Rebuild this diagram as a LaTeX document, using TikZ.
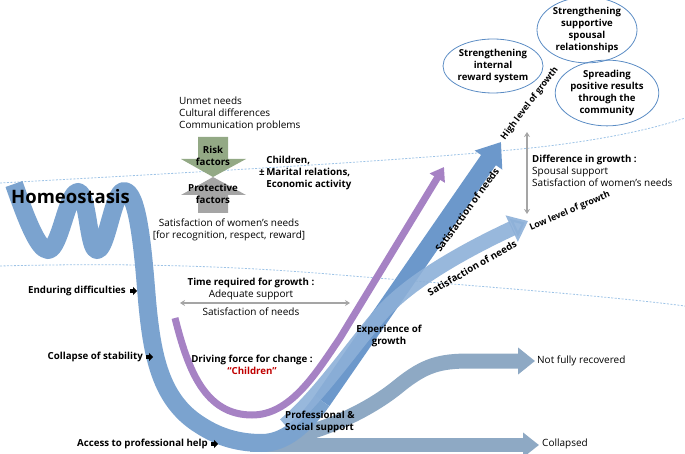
\documentclass[tikz,border=0pt]{standalone}
\usepackage{fontspec}
\setmainfont{Open Sans}
\usetikzlibrary{arrows.meta,shapes.geometric}
\definecolor{mainblue}{HTML}{7BA3CF}
\definecolor{riseblue}{HTML}{6C98CB}
\definecolor{lowblue}{HTML}{8DB0D8}
\definecolor{grayblue}{HTML}{8EA9C4}
\definecolor{purp}{HTML}{A682C4}
\definecolor{sage}{HTML}{93A985}
\definecolor{protgray}{HTML}{A5A5A5}
\definecolor{dashblue}{HTML}{9DC3E6}
\definecolor{ellblue}{HTML}{5B8CC4}
\definecolor{darkred}{HTML}{C00000}
\begin{document}
\begin{tikzpicture}[x=1pt,y=-1pt,
  dashline/.style={draw=dashblue,line width=0.8pt,dash pattern=on 2pt off 1.5pt},
  band/.style={line cap=butt,line join=round},
  txt/.style={font=\fontsize{10}{12.3}\selectfont,inner sep=0pt,text=black},
  btxt/.style={font=\fontsize{9.7}{12.3}\selectfont\bfseries,inner sep=0pt,text=black},
  rtxt/.style={font=\fontsize{8.9}{10}\selectfont\bfseries,inner sep=0pt,text=black},
  ell/.style={ellipse,draw=ellblue,line width=0.8pt,inner sep=0pt,align=center,
    font=\fontsize{9.6}{12.3}\selectfont\bfseries,minimum width=100pt},
  dblarrow/.style={draw=protgray,line width=1.6pt,{Stealth[length=5pt,width=6pt]}-{Stealth[length=5pt,width=6pt]}},
  marker/.pic={\fill[black] (-3.5,-2.3) rectangle (0,2.3); \fill[black] (0,-4.2) -- (4,0) -- (0,4.2) -- cycle;}
]
\useasboundingbox (0,0) rectangle (685,454);

% dashed level lines
\coordinate (u0) at (0,183); \coordinate (u1) at (540,147); \coordinate (u2) at (685,118);
\draw[dashline] (u0) .. controls (200,172) and (420,160) .. (u1) .. controls (600,140) and (650,130) .. (u2);
\coordinate (l0) at (0,266); \coordinate (l1) at (340,275); \coordinate (l2) at (685,306);
\draw[dashline] (l0) .. controls (150,262) and (260,268) .. (l1) .. controls (450,284) and (600,295) .. (l2);

% named points of the bands
\coordinate (wstart) at (14,184);
\coordinate (ubottom) at (262,443);
\coordinate (risestart) at (322,401);
\coordinate (hightip) at (501,142);
\coordinate (lowstart) at (285,425);
\coordinate (lowmid) at (380,315);
\coordinate (lowtip) at (528,221);
\coordinate (nfstart) at (264,442);
\coordinate (nfmid) at (400,385);
\coordinate (nfknee) at (470,361);
\coordinate (nftip) at (535,361);
\coordinate (colstart) at (250,445);
\coordinate (coltip) at (539,445);
\coordinate (pstart) at (175,318);
\coordinate (pbottom) at (252,415);
\coordinate (pknee) at (340,338);
\coordinate (ptip) at (444,167);

% collapsed & not fully recovered
\draw[band,draw=grayblue,line width=14pt,-{Triangle[length=16pt,width=24pt]}] (colstart) -- (coltip);
\draw[band,draw=grayblue,line width=15pt,-{Triangle[length=17pt,width=26pt]}]
  (nfstart) .. controls (320,435) and (370,410) .. (nfmid) .. controls (425,365) and (440,361) .. (nfknee) -- (nftip);

% main homeostasis / U band
\draw[band,draw=mainblue,line width=18pt]
  (wstart) .. controls (26,218) and (38,250) .. (48,250)
  .. controls (60,250) and (67,192) .. (78,192)
  .. controls (88,192) and (88,250) .. (97,250)
  .. controls (107,250) and (113,191) .. (124,191)
  .. controls (138,191) and (143,250) .. (147,300)
  .. controls (152,355) and (160,400) .. (200,425)
  .. controls (220,438) and (240,443) .. (ubottom)
  .. controls (285,443) and (305,425) .. (risestart);
\draw[band,draw=riseblue,line width=18pt,-{Triangle[length=22pt,width=32pt]}] (risestart) -- (hightip);

% low level band
\draw[band,draw=lowblue,opacity=0.9,line width=15pt,-{Triangle[length=18pt,width=28pt]}]
  (lowstart) .. controls (320,395) and (350,350) .. (lowmid) .. controls (410,280) and (470,248) .. (lowtip);

% purple band
\draw[band,draw=purp,line width=7pt,-{Triangle[length=13pt,width=17pt]}]
  (pstart) .. controls (188,370) and (205,415) .. (pbottom) .. controls (290,415) and (315,375) .. (pknee) -- (ptip);

% risk / protective block arrows
\fill[sage] (198,137) -- (228,137) -- (228,159) -- (246,159) -- (213,177) -- (181,159) -- (198,159) -- cycle;
\fill[protgray] (213,177) -- (246,195) -- (228,195) -- (228,213) -- (198,213) -- (198,195) -- (181,195) -- cycle;
\node[btxt,align=center] (risk) at (213,156) {Risk\\factors};
\node[btxt,align=center] (prot) at (213,194) {Protective\\factors};

% gray double arrows
\coordinate (hl) at (180,303); \coordinate (hr) at (350,303);
\draw[dblarrow] (hl) -- (hr);
\coordinate (vt) at (527,132); \coordinate (vb) at (527,214);
\draw[dblarrow] (vt) -- (vb);

% texts
\node[txt,anchor=west,align=left] (unmet) at (179,114) {Unmet needs\\Cultural differences\\Communication problems};
\node[btxt,anchor=west,align=left] (children) at (259,173) {\phantom{±\,}Children,\\±\,Marital relations,\\\phantom{±\,}Economic activity};
\node[inner sep=0pt,anchor=west,font=\fontsize{18.5}{20}\selectfont\bfseries] (homeo) at (11,197) {Homeostasis};
\node[txt,align=center] (satw) at (229,230) {Satisfaction of women’s needs\\{[}for recognition, respect, reward{]}};

\node[btxt,anchor=east] (endur) at (126,291) {Enduring difficulties};
\pic at (133,291) {marker};
\node[btxt,anchor=east] (collapse) at (143,357) {Collapse of stability};
\pic at (149,357) {marker};
\node[btxt,anchor=east] (access) at (208,444) {Access to professional help};
\pic at (214,444) {marker};

\node[txt,align=center] (time) at (251,289) {{\fontsize{9.7}{12.3}\selectfont\bfseries Time required for growth :}\\Adequate support};
\node[txt] (satn) at (251,312) {Satisfaction of needs};
\node[btxt,align=center] (driving) at (252,365) {Driving force for change :\\\textcolor{darkred}{“Children”}};
\node[btxt,align=center] (exper) at (389,336) {Experience of\\growth};
\node[btxt,anchor=west,align=left] (prof) at (285,422) {Professional \&\\Social support};
\node[txt,anchor=west] (notfully) at (537,361) {Not fully recovered};
\node[txt,anchor=west] (collapsed) at (542,444) {Collapsed};
\node[txt,anchor=west,align=left] (diff) at (532,171) {{\fontsize{9.7}{12.3}\selectfont\bfseries Difference in growth :}\\Spousal support\\Satisfaction of women’s needs};

% rotated labels
\node[rtxt,rotate=53,anchor=west] (high) at (503,139) {High level of growth};
\node[rtxt,rotate=23,anchor=west] (low) at (530,228) {Low level of growth};
\node[btxt,rotate=54] (sat1) at (467,210) {Satisfaction of needs};
\node[btxt,rotate=30] (sat2) at (472,268) {Satisfaction of needs};

% ellipses
\node[ell,minimum height=54pt] (e1) at (493,66) {Strengthening\\internal\\reward system};
\node[ell,minimum height=58pt] (e2) at (587,30) {Strengthening\\supportive\\spousal\\relationships};
\node[ell,minimum height=56pt] (e3) at (607,93) {Spreading\\positive results\\through the\\community};
\end{tikzpicture}
\end{document}
